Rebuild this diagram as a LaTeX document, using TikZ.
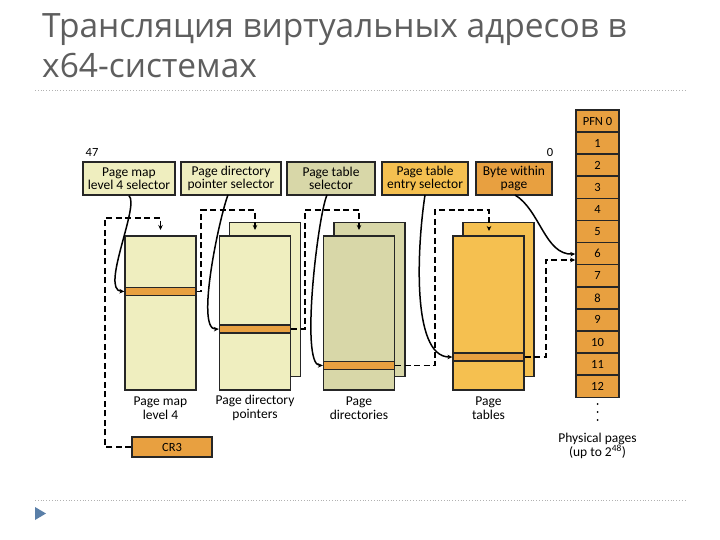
\documentclass[tikz,border=0pt]{standalone}
\usepackage{fontspec}
\setmainfont{Carlito}
\newfontfamily\ttlfont{Open Sans}
\usetikzlibrary{arrows.meta}
\definecolor{pale}{HTML}{EFEEBF}
\definecolor{olive}{HTML}{D8D7A8}
\definecolor{gold}{HTML}{F5C050}
\definecolor{orng}{HTML}{E8A040}
\definecolor{ttl}{HTML}{5E5E5E}
\definecolor{bul}{HTML}{5A7FA8}
\begin{document}
\begin{tikzpicture}[x=1pt,y=-1pt,
 box/.style={draw=black!85,line width=1.5pt,inner sep=0pt,align=center,font=\fontsize{13.5}{13.5}\selectfont},
 tbl/.style={draw=black!85,line width=1.5pt,inner sep=0pt,minimum width=71pt,minimum height=154pt},
 stripe/.style={draw=black!85,line width=1.3pt,fill=orng,inner sep=0pt,minimum width=71pt,minimum height=8pt},
 pfn/.style={draw=black!85,line width=1.5pt,fill=orng,inner sep=0pt,minimum width=43pt,minimum height=22.1pt,font=\fontsize{12.5}{12.5}\selectfont},
 lbl/.style={align=center,font=\fontsize{13.5}{14.5}\selectfont},
 dln/.style={line width=1.5pt,dash pattern=on 6pt off 3.5pt},
 ar/.style={-{Stealth[length=5pt,width=4.5pt]}},
 cv/.style={line width=1.5pt,ar}]
\useasboundingbox (0,0) rectangle (720,540);
% title
\node[anchor=base west,inner sep=0,text=ttl,font=\ttlfont\fontsize{33.5}{33.5}\selectfont] (t1) at (42,38) {Трансляция виртуальных адресов в};
\node[anchor=base west,inner sep=0,text=ttl,font=\ttlfont\fontsize{33.5}{33.5}\selectfont] (t2) at (42,78) {x64-системах};
\draw[gray!60,dotted,line width=0.8pt] (35,90) -- (685,90);
\draw[gray!60,dotted,line width=0.8pt] (35,500) -- (685,500);
\fill[bul] (35,507) -- (46,513.5) -- (35,520) -- cycle;
% selectors
\node[lbl,font=\fontsize{12.5}{12.5}\selectfont] (b47) at (92,152) {47};
\node[lbl,font=\fontsize{12.5}{12.5}\selectfont] (b0) at (550,152) {0};
\node[box,fill=pale,minimum width=92pt,minimum height=33pt] (s1) at (129,178.5) {Page map\\level 4 selector};
\node[box,fill=pale,minimum width=100pt,minimum height=33pt] (s2) at (231,178.5) {Page directory\\pointer selector};
\node[box,fill=olive,minimum width=88pt,minimum height=33pt] (s3) at (331,178.5) {Page table\\selector};
\node[box,fill=gold,minimum width=86pt,minimum height=33pt] (s4) at (425,178.5) {Page table\\entry selector};
\node[box,fill=orng,minimum width=76pt,minimum height=33pt] (s5) at (514,178.5) {Byte within\\page};
% tables
\node[tbl,fill=pale] (pml4) at (160.5,313) {};
\node[tbl,fill=pale] (pdpb) at (265,299.5) {};
\node[tbl,fill=pale] (pdp) at (255,313) {};
\node[tbl,fill=olive] (pdb) at (369.5,299.5) {};
\node[tbl,fill=olive] (pd) at (359,313) {};
\node[tbl,fill=gold] (ptb) at (498.5,299.5) {};
\node[tbl,fill=gold] (pt) at (488.5,313) {};
\node[stripe] (e1) at (160.5,291.5) {};
\node[stripe] (e2) at (255,329) {};
\node[stripe] (e3) at (359,365.5) {};
\node[stripe] (e4) at (488.5,357) {};
\node[lbl] (l1) at (160.5,408) {Page map\\level 4};
\node[lbl] (l2) at (255,408) {Page directory\\pointers};
\node[lbl] (l3) at (359,408) {Page\\directories};
\node[lbl] (l4) at (488.5,408) {Page\\tables};
\node[box,fill=orng,minimum width=80pt,minimum height=20pt,font=\fontsize{12.5}{12.5}\selectfont] (cr3) at (172,447) {CR3};
% physical pages
\foreach \i/\t in {0/PFN 0,1/1,2/2,3/3,4/4,5/5,6/6,7/7,8/8,9/9,10/10,11/11,12/12}{
  \node[pfn] (p\i) at (597.5,{121+\i*22.1}) {\t};}
\foreach \k in {0,1,2}{\fill (597.5,{404+\k*8}) circle (1pt);}
\node[lbl] (phys) at (597.5,446) {Physical pages\\(up to 2\textsuperscript{48})};
% dashed links
\coordinate (a1) at (160.5,230);
\coordinate (a2) at (255,230);
\coordinate (a3) at (359,230);
\coordinate (a4) at (489,231);
\draw[dln,ar] (cr3.west) -| (105,218) -| (a1);
\draw[dln,ar] (e1.east) -| (201,210) -| (a2);
\draw[dln,ar] (e2.east) -| (305,210) -| (a3);
\draw[dln,ar] (e3.east) -| (435,210) -| (a4);
\draw[dln,ar] (e4.east) -| (546,260) -- (p6.west |- 0,260);
% solid curves
\draw[cv] (s1.south) .. controls (140,205) and (100,290) .. (e1.west);
\draw[cv] (228,195) .. controls (220,215) and (195,330) .. (e2.west);
\draw[cv] (327,195) .. controls (318,215) and (300,365) .. (e3.west);
\draw[cv] (425,195) .. controls (418,240) and (410,357) .. (e4.west);
\draw[cv] (515,195) .. controls (540,210) and (545,255) .. (p6.west |- 0,254);
\end{tikzpicture}
\end{document}
